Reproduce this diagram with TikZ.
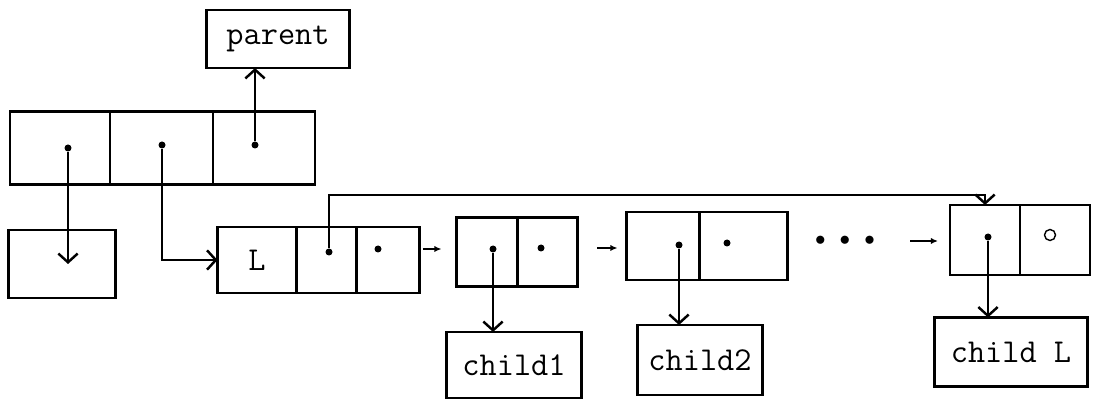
\documentclass[tikz,border=0pt]{standalone}
\usetikzlibrary{positioning,arrows.meta}

\tikzset{
  cell/.style={draw, line width=1.4pt, inner sep=0pt, outer sep=0pt},
  dot/.style={circle, fill, inner sep=0pt, minimum size=0.14cm},
  ptr/.style={line width=1.4pt, -{Straight Barb[length=5pt,width=11pt,line width=1.4pt]}},
  link/.style={line width=0.9pt, -{Latex[length=4pt,width=3.5pt]}}
}

\begin{document}
\begin{tikzpicture}[x=0.02cm, y=-0.02cm, font=\ttfamily\fontsize{19}{22}\selectfont]
  \useasboundingbox (0,0) rectangle (1101,401);

  %Define nodes
  \node[cell, minimum width=2.86cm, minimum height=1.16cm] (parent) at (278,39) {parent};

  \node[cell, minimum width=2cm, minimum height=1.46cm] (t1) at (60,148) {};
  \node[cell, minimum width=2.06cm, minimum height=1.46cm, right=0pt of t1] (t2) {};
  \node[cell, minimum width=2.04cm, minimum height=1.46cm, right=0pt of t2] (t3) {};
  \node[cell, minimum width=2.14cm, minimum height=1.36cm] (lone) at (62,264) {};

  \node[cell, minimum width=1.58cm, minimum height=1.32cm] (l1) at (257,260) {L};
  \node[cell, minimum width=1.2cm, minimum height=1.32cm, right=0pt of l1] (l2) {};
  \node[cell, minimum width=1.26cm, minimum height=1.32cm, right=0pt of l2] (l3) {};

  \node[cell, minimum width=1.22cm, minimum height=1.38cm] (a1) at (487,252) {};
  \node[cell, minimum width=1.2cm, minimum height=1.38cm, right=0pt of a1] (a2) {};

  \node[cell, minimum width=1.46cm, minimum height=1.36cm] (b1) at (663,246) {};
  \node[cell, minimum width=1.76cm, minimum height=1.36cm, right=0pt of b1] (b2) {};

  \node[font=\fontsize{13}{15}\selectfont] (more) at (845,241)
    {$\bullet$\hspace{0.28cm}$\bullet$\hspace{0.28cm}$\bullet$};

  \node[cell, minimum width=1.4cm, minimum height=1.4cm] (z1) at (985,240) {};
  \node[cell, minimum width=1.4cm, minimum height=1.4cm, right=0pt of z1] (z2) {};
  \node[circle, draw, line width=0.8pt, minimum size=0.22cm, inner sep=0pt] (nil) at (1050,235) {};

  \node[cell, minimum width=2.7cm, minimum height=1.32cm] (child1) at (514,365) {child1};
  \node[cell, minimum width=2.5cm, minimum height=1.4cm] (child2) at (700,360) {child2};
  \node[cell, minimum width=3.06cm, minimum height=1.38cm] (childL) at (1011,352) {child L};

  % pointer dots
  \node[dot] (d1) at (68,148) {};
  \node[dot] (d2) at (162,145) {};
  \node[dot] (d3) at (255,145) {};
  \node[dot] (d4) at (329,252) {};
  \node[dot] (d5) at (378,249) {};
  \node[dot] (d6) at (493,249) {};
  \node[dot] (d7) at (541,248) {};
  \node[dot] (d8) at (679,245) {};
  \node[dot] (d9) at (727,243) {};
  \node[dot] (d10) at (988,237) {};
  \coordinate (hop) at (329,195);

  % Connect the nodes
  \draw[ptr] (d3) -- (d3 |- parent.south);
  \draw[ptr] (d1) -- (d1 |- lone.center);
  \draw[ptr] (d2) |- (l1.west);
  \draw[ptr] (d4) -- (hop) -| (z1.north);
  \draw[ptr] (d6) -- (d6 |- child1.north);
  \draw[ptr] (d8) -- (d8 |- child2.north);
  \draw[ptr] (d10) -- (d10 |- childL.north);

  \draw[link, shorten <=2pt, shorten >=0.3cm] (l3.east |- d5) -- (a1.west |- d5);
  \draw[link, shorten <=0.4cm, shorten >=0.18cm] (a2.east |- d7) -- (b1.west |- d7);
  \draw[link, shorten <=0.58cm, shorten >=0.24cm] (more.east) -- (more.east -| z1.west);

\end{tikzpicture}
\end{document}
